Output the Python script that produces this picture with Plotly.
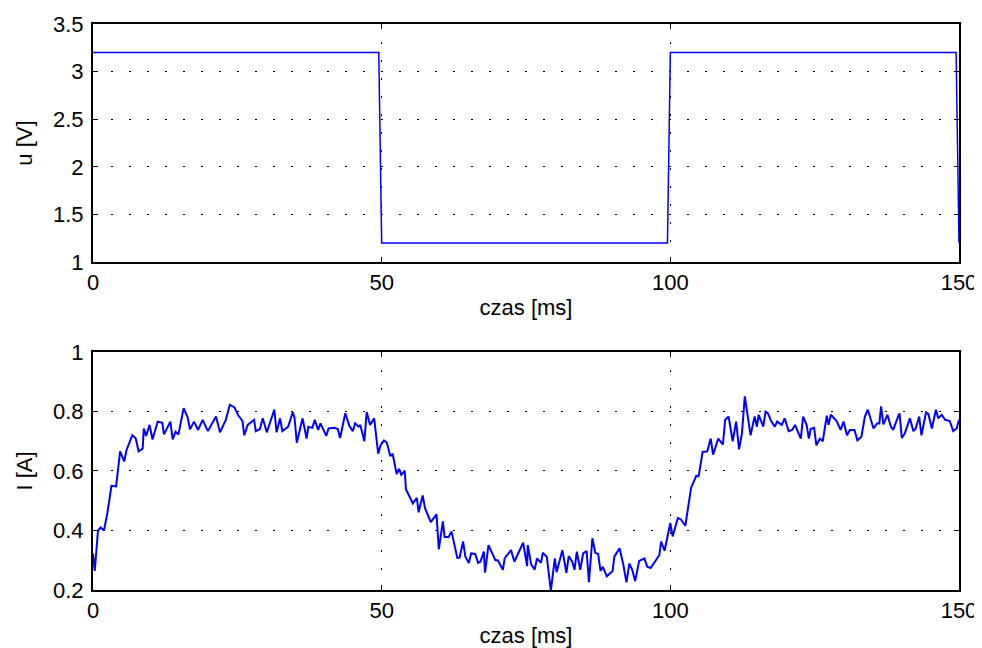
import plotly.graph_objects as go
from plotly.subplots import make_subplots

# Top: voltage
t_u = [0, 49.5, 50, 99.5, 100, 149.5, 150]
u_V = [3.2, 3.2, 1.2, 1.2, 3.2, 3.2, 1.2]

# Bottom: current
t_i = [0, 0.3, 0.87, 1.33, 1.9, 2.5, 3.2, 4.0, 4.7, 5.4, 5.8, 6.8, 7.4, 7.9, 8.6, 8.8, 9.2, 9.8,
       10.3, 11.2, 12.0, 12.3, 13.4, 13.8, 14.3, 14.8, 15.7, 16.4, 16.8, 17.5, 18.2, 19.0, 19.9,
       21.3, 22.0, 23.0, 23.7, 24.5, 25.1, 25.9, 26.2, 26.8, 27.9, 28.2, 28.9, 29.4, 30.1, 31.4,
       31.8, 32.4, 32.8, 33.8, 34.6, 34.9, 35.3, 36.3, 37.0, 37.3, 38.0, 38.4, 39.0, 39.4, 40.4,
       40.8, 41.8, 42.4, 42.8, 43.7, 44.4, 45.0, 45.4, 46.0, 46.3, 47.0, 47.4, 48.0, 48.7, 49.4,
       49.8, 50.4, 50.9, 51.5, 51.9, 52.6, 53.0, 53.4, 54.0, 54.2, 55.4, 56.1, 56.4, 57.1, 57.5,
       58.5, 59.5, 59.9, 60.6, 60.9, 61.6, 62.1, 63.1, 63.5, 64.1, 64.5, 65.1, 65.5, 66.2, 66.7,
       67.1, 67.7, 67.9, 68.5, 69.7, 70.1, 71.0, 71.3, 72.4, 73.0, 74.5, 75.2, 75.3, 75.9, 76.5,
       76.9, 77.6, 77.9, 78.6, 79.3, 80.0, 80.3, 81.3, 82.0, 82.4, 83.0, 83.4, 83.8, 84.4, 84.9,
       85.5, 85.9, 86.5, 87.0, 87.5, 87.9, 88.3, 89.0, 90.0, 90.3, 91.2, 91.8, 92.4, 92.9, 93.4,
       93.9, 94.6, 95.5, 96.0, 96.6, 97.7, 98.1, 98.4, 99.0, 100.0, 100.4, 101.3, 101.8, 102.6,
       103.6, 104.5, 104.9, 105.6, 106.4, 107.0, 107.4, 108.3, 109.1, 109.5, 110.1, 110.8, 111.4,
       111.9, 112.4, 112.9, 113.4, 113.9, 114.6, 115.0, 115.3, 116.1, 116.5, 116.9, 117.5, 118.1,
       118.5, 119.3, 119.8, 120.5, 121.1, 121.6, 122.6, 123.0, 123.6, 124.0, 124.3, 124.9, 125.3,
       125.9, 126.4, 127.1, 127.4, 127.8, 128.8, 129.5, 130.0, 130.6, 131.1, 131.9, 132.4, 133.1,
       133.7, 134.2, 135.2, 135.8, 136.2, 136.5, 136.9, 137.6, 138.2, 138.6, 139.4, 139.7, 140.1,
       140.6, 141.5, 142.1, 142.5, 143.1, 143.5, 144.3, 144.7, 145.3, 146.0, 146.4, 147.0, 147.6,
       148.4, 149.0, 149.6, 150.0]
i_A = [0.323, 0.264, 0.40, 0.41, 0.40, 0.46, 0.55, 0.548, 0.666, 0.632, 0.67, 0.72, 0.71, 0.666,
       0.675, 0.743, 0.718, 0.755, 0.706, 0.766, 0.762, 0.723, 0.766, 0.706, 0.732, 0.723, 0.811,
       0.78, 0.74, 0.766, 0.738, 0.772, 0.734, 0.783, 0.73, 0.772, 0.823, 0.814, 0.789, 0.768,
       0.72, 0.755, 0.772, 0.734, 0.741, 0.777, 0.73, 0.806, 0.73, 0.777, 0.734, 0.749, 0.797,
       0.78, 0.695, 0.777, 0.709, 0.749, 0.745, 0.772, 0.738, 0.76, 0.718, 0.743, 0.745, 0.741,
       0.711, 0.794, 0.752, 0.734, 0.76, 0.749, 0.755, 0.70, 0.798, 0.755, 0.777, 0.658, 0.686,
       0.703, 0.695, 0.65, 0.658, 0.59, 0.607, 0.587, 0.601, 0.539, 0.491, 0.51, 0.461, 0.518,
       0.476, 0.428, 0.454, 0.337, 0.431, 0.378, 0.378, 0.397, 0.308, 0.309, 0.363, 0.312, 0.291,
       0.323, 0.321, 0.291, 0.295, 0.329, 0.258, 0.351, 0.30, 0.30, 0.268, 0.306, 0.334, 0.295,
       0.359, 0.28, 0.351, 0.286, 0.268, 0.306, 0.291, 0.325, 0.312, 0.198, 0.306, 0.26, 0.334,
       0.258, 0.314, 0.295, 0.268, 0.329, 0.268, 0.323, 0.331, 0.226, 0.374, 0.325, 0.321, 0.264,
       0.278, 0.246, 0.264, 0.312, 0.34, 0.291, 0.226, 0.289, 0.268, 0.23, 0.298, 0.306, 0.278,
       0.274, 0.306, 0.317, 0.363, 0.332, 0.425, 0.38, 0.442, 0.438, 0.416, 0.544, 0.584, 0.582,
       0.664, 0.666, 0.709, 0.655, 0.709, 0.689, 0.772, 0.783, 0.70, 0.766, 0.673, 0.726, 0.851,
       0.789, 0.72, 0.783, 0.749, 0.789, 0.749, 0.80, 0.794, 0.766, 0.749, 0.766, 0.755, 0.777,
       0.734, 0.738, 0.755, 0.709, 0.783, 0.755, 0.709, 0.741, 0.745, 0.686, 0.709, 0.70, 0.786,
       0.755, 0.789, 0.768, 0.738, 0.766, 0.72, 0.738, 0.738, 0.703, 0.715, 0.783, 0.806, 0.743,
       0.76, 0.76, 0.817, 0.757, 0.789, 0.749, 0.738, 0.78, 0.794, 0.711, 0.726, 0.777, 0.734,
       0.743, 0.783, 0.72, 0.797, 0.791, 0.743, 0.806, 0.777, 0.789, 0.772, 0.768, 0.734, 0.743,
       0.772]

x_ticks = [0, 50, 100, 150]
x_labels = ["0", "50", "100", "150"]
u_ticks = [1, 1.5, 2, 2.5, 3, 3.5]
u_labels = ["1", "1.5", "2", "2.5", "3", "3.5"]
i_ticks = [0.2, 0.4, 0.6, 0.8, 1]
i_labels = ["0.2", "0.4", "0.6", "0.8", "1"]

fig = make_subplots(rows=2, cols=1, vertical_spacing=0.159)
fig.add_trace(go.Scatter(x=t_u, y=u_V, mode="lines", line=dict(color="#0000FF", width=1.5)), row=1, col=1)
fig.add_trace(go.Scatter(x=t_i, y=i_A, mode="lines", line=dict(color="#0000FF", width=2)), row=2, col=1)

font = dict(family="Liberation Sans, Arial, sans-serif", size=22, color="black")
common = dict(showline=True, linecolor="black", linewidth=2, mirror="ticks", ticks="inside",
              ticklen=5, tickwidth=1, tickcolor="black", showgrid=True, gridcolor="black",
              gridwidth=1, griddash="2px,16px", zeroline=False, tickfont=font, automargin=False)

fig.update_xaxes(range=[0, 150], tickvals=x_ticks, ticktext=x_labels, ticklabelstandoff=0,
                 title=dict(text="czas [ms]", font=font, standoff=5), **common)
fig.update_yaxes(ticklabelstandoff=3, **common)
fig.update_yaxes(range=[1, 3.5], tickvals=u_ticks, ticktext=u_labels,
                 title=dict(text="u [V]", font=font, standoff=14), row=1, col=1)
fig.update_yaxes(range=[0.2, 1], tickvals=i_ticks, ticktext=i_labels,
                 title=dict(text="I [A]", font=font, standoff=14), row=2, col=1)

# page body has an 8px margin; compensate so the plot areas land where the reference has them
fig.update_layout(width=974, height=640, showlegend=False, plot_bgcolor="white",
                  paper_bgcolor="white", margin=dict(l=85, r=23, t=16, b=58))
fig.layout.yaxis.domain = [0.5795, 1.0]
fig.layout.yaxis2.domain = [0.0, 0.4205]

fig.write_html("out.html")
